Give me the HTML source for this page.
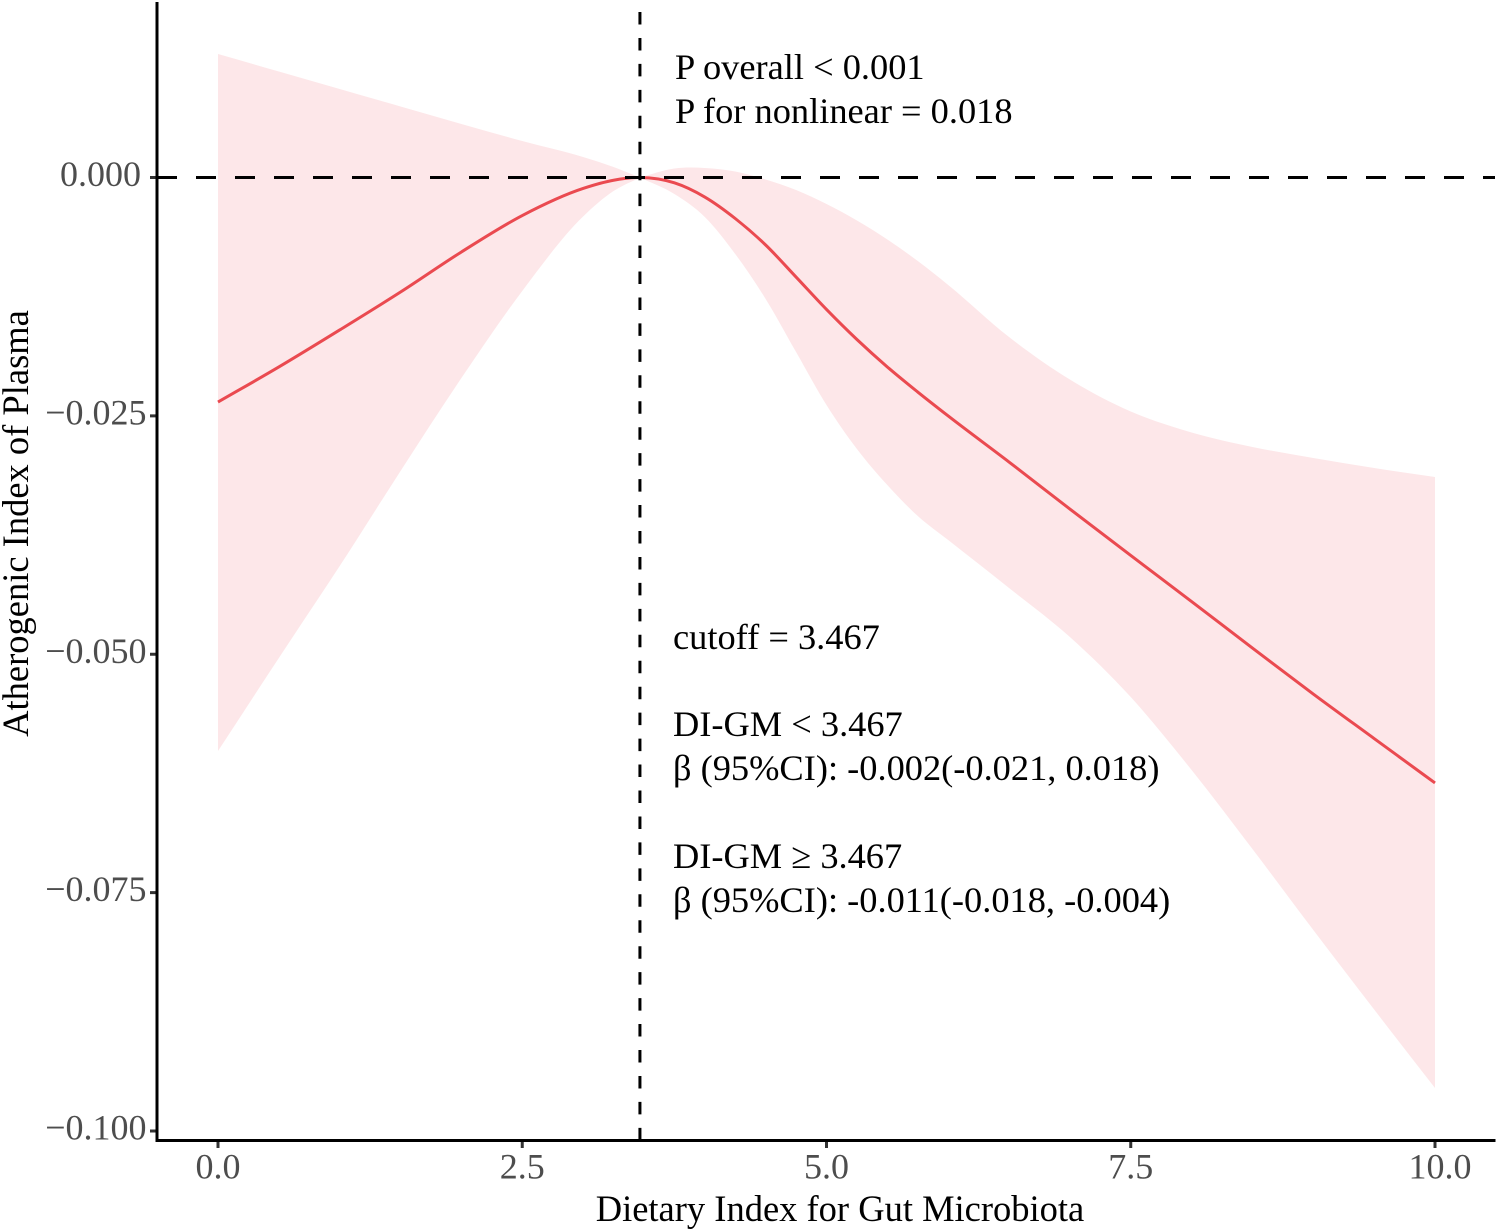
<!DOCTYPE html>
<html lang="en">
<head>
<meta charset="utf-8">
<title>Dietary Index for Gut Microbiota vs Atherogenic Index of Plasma</title>
<style>
html,body{margin:0;padding:0;background:#fff;width:1499px;height:1232px;overflow:hidden}
svg{display:block}
text{font-family:"Liberation Serif","Times New Roman",serif}
.note{font-size:36.4px;fill:#000}
.title{font-size:36.5px;fill:#000}
.tick{font-size:36px;fill:#4d4d4d}
</style>
</head>
<body>
<svg id="chart" xmlns="http://www.w3.org/2000/svg" width="1499" height="1232" viewBox="0 0 1499 1232">
  <rect x="0" y="0" width="1499" height="1232" fill="#fff"/>
  <path id="ci" fill="#fde7e9" stroke="none"/>
  <path id="curve" fill="none" stroke="#ea4a50" stroke-width="3"/>
  <line id="hRef" stroke="#000" stroke-width="3" stroke-dasharray="20 19"/>
  <line id="vRef" stroke="#000" stroke-width="3" stroke-dasharray="12.5 13.45"/>
  <g id="ticks"></g>
  <line x1="157" y1="2" x2="157" y2="1142" stroke="#000" stroke-width="3"/>
  <line x1="156" y1="1140.5" x2="1495.5" y2="1140.5" stroke="#000" stroke-width="3"/>
  <text class="title" x="840" y="1221" text-anchor="middle">Dietary Index for Gut Microbiota</text>
  <text class="title" transform="translate(28 523.5) rotate(-90)" text-anchor="middle">Atherogenic Index of Plasma</text>
  <text class="note" x="675" y="79">P overall &lt; 0.001</text>
  <text class="note" x="675" y="123">P for nonlinear = 0.018</text>
  <text class="note" x="673" y="649">cutoff = 3.467</text>
  <text class="note" x="673" y="736">DI-GM &lt; 3.467</text>
  <text class="note" x="673" y="780">β (95%CI): -0.002(-0.021, 0.018)</text>
  <text class="note" x="673" y="868">DI-GM ≥ 3.467</text>
  <text class="note" x="673" y="912">β (95%CI): -0.011(-0.018, -0.004)</text>
</svg>
<script>
const xValues = [0,0.5,1,1.5,2,2.5,3,3.25,3.467,3.75,4,4.25,4.5,4.75,5,5.25,5.5,5.75,6,6.5,7,7.5,8,8.5,9,9.5,10];
const fitValues = [-0.02355,-0.01987,-0.01599,-0.01201,-0.00781,-0.00399,-0.00115,-0.00029,0,-0.00056,-0.00205,-0.00430,-0.00708,-0.01044,-0.01384,-0.01699,-0.01987,-0.02250,-0.02501,-0.02984,-0.03477,-0.03964,-0.04447,-0.04935,-0.05417,-0.05884,-0.06350];
const upperValues = [0.01295,0.01112,0.00928,0.00745,0.00561,0.00383,0.00215,0.00110,0,0.00094,0.00100,0.00063,-0.00021,-0.00131,-0.00278,-0.00451,-0.00650,-0.00876,-0.01127,-0.01673,-0.02119,-0.02454,-0.02674,-0.02826,-0.02942,-0.03047,-0.03141];
const lowerValues = [-0.06015,-0.05039,-0.04075,-0.03078,-0.02103,-0.01190,-0.00409,-0.00142,0,-0.00173,-0.00414,-0.00802,-0.01274,-0.01830,-0.02386,-0.02847,-0.03225,-0.03550,-0.03802,-0.04305,-0.04819,-0.05449,-0.06214,-0.07043,-0.07892,-0.08726,-0.09549];
const xTickValues = [0,2.5,5,7.5,10];
const xTickLabels = ["0.0","2.5","5.0","7.5","10.0"];
const yTickValues = [0,-0.025,-0.05,-0.075,-0.1];
const yTickLabels = ["0.000","\u22120.025","\u22120.050","\u22120.075","\u22120.100"];
const cutoffValue = 3.467;
const referenceValue = 0;

const SVGNS = "http://www.w3.org/2000/svg";
function xScale(v){ return 218 + v * 121.7; }
function yScale(v){ return 177.5 - v * 9535; }

function smoothSegments(xs, ys, breakIndex){
  const n = xs.length, d = [], mLeft = [], mRight = [];
  for (let i = 0; i < n - 1; i++) d.push((ys[i+1]-ys[i])/(xs[i+1]-xs[i]));
  for (let i = 0; i < n; i++){
    if (i === 0){ mLeft.push(d[0]); mRight.push(d[0]); }
    else if (i === n - 1){ mLeft.push(d[n-2]); mRight.push(d[n-2]); }
    else if (i === breakIndex){ mLeft.push(d[i-1]); mRight.push(d[i]); }
    else {
      const h0 = xs[i]-xs[i-1], h1 = xs[i+1]-xs[i];
      const m = (h1*d[i-1] + h0*d[i])/(h0+h1);
      mLeft.push(m); mRight.push(m);
    }
  }
  let s = "";
  for (let i = 0; i < n - 1; i++){
    const h = (xs[i+1]-xs[i])/3;
    s += "C" + (xs[i]+h).toFixed(2) + " " + (ys[i]+mRight[i]*h).toFixed(2) + " " +
         (xs[i+1]-h).toFixed(2) + " " + (ys[i+1]-mLeft[i+1]*h).toFixed(2) + " " +
         xs[i+1].toFixed(2) + " " + ys[i+1].toFixed(2);
  }
  return s;
}

const cutoffIndex = xValues.indexOf(cutoffValue);
const px = xValues.map(xScale);
const pxRev = px.slice().reverse();
const upY = upperValues.map(yScale);
const loYRev = lowerValues.map(yScale).reverse();
const fitY = fitValues.map(yScale);

document.getElementById("ci").setAttribute("d",
  "M" + px[0].toFixed(2) + " " + upY[0].toFixed(2) + smoothSegments(px, upY, cutoffIndex) +
  "L" + pxRev[0].toFixed(2) + " " + loYRev[0].toFixed(2) +
  smoothSegments(pxRev, loYRev, px.length - 1 - cutoffIndex) + "Z");
document.getElementById("curve").setAttribute("d",
  "M" + px[0].toFixed(2) + " " + fitY[0].toFixed(2) + smoothSegments(px, fitY, -1));

const hRef = document.getElementById("hRef");
hRef.setAttribute("x1", 157);
hRef.setAttribute("x2", 1495);
hRef.setAttribute("y1", yScale(referenceValue));
hRef.setAttribute("y2", yScale(referenceValue));
const vRef = document.getElementById("vRef");
vRef.setAttribute("x1", xScale(cutoffValue));
vRef.setAttribute("x2", xScale(cutoffValue));
vRef.setAttribute("y1", 12);
vRef.setAttribute("y2", 1140);

const ticks = document.getElementById("ticks");
xTickValues.forEach(function(v, i){
  const t = document.createElementNS(SVGNS, "line");
  
  
  t.setAttribute("x1", xScale(v));
  t.setAttribute("x2", xScale(v));
  t.setAttribute("y1", 1141);
  t.setAttribute("y2", 1148);
  t.setAttribute("stroke", "#333");
  t.setAttribute("stroke-width", "3");
  ticks.appendChild(t);
  const l = document.createElementNS(SVGNS, "text");
  
  
  l.setAttribute("class", "tick");
  l.setAttribute("x", xScale(v) + (v === 10 ? 5 : 0));
  l.setAttribute("y", 1178.5);
  l.setAttribute("text-anchor", "middle");
  l.textContent = xTickLabels[i];
  ticks.appendChild(l);
});
yTickValues.forEach(function(v, i){
  const t = document.createElementNS(SVGNS, "line");
  
  
  t.setAttribute("x1", 150);
  t.setAttribute("x2", 156);
  t.setAttribute("y1", yScale(v));
  t.setAttribute("y2", yScale(v));
  t.setAttribute("stroke", "#333");
  t.setAttribute("stroke-width", "3");
  ticks.appendChild(t);
  const l = document.createElementNS(SVGNS, "text");
  
  
  l.setAttribute("class", "tick");
  l.setAttribute("x", v === 0 ? 141 : 146.5);
  l.setAttribute("y", yScale(v) + 8.5);
  l.setAttribute("text-anchor", "end");
  l.textContent = yTickLabels[i];
  ticks.appendChild(l);
});
</script>
</body>
</html>
